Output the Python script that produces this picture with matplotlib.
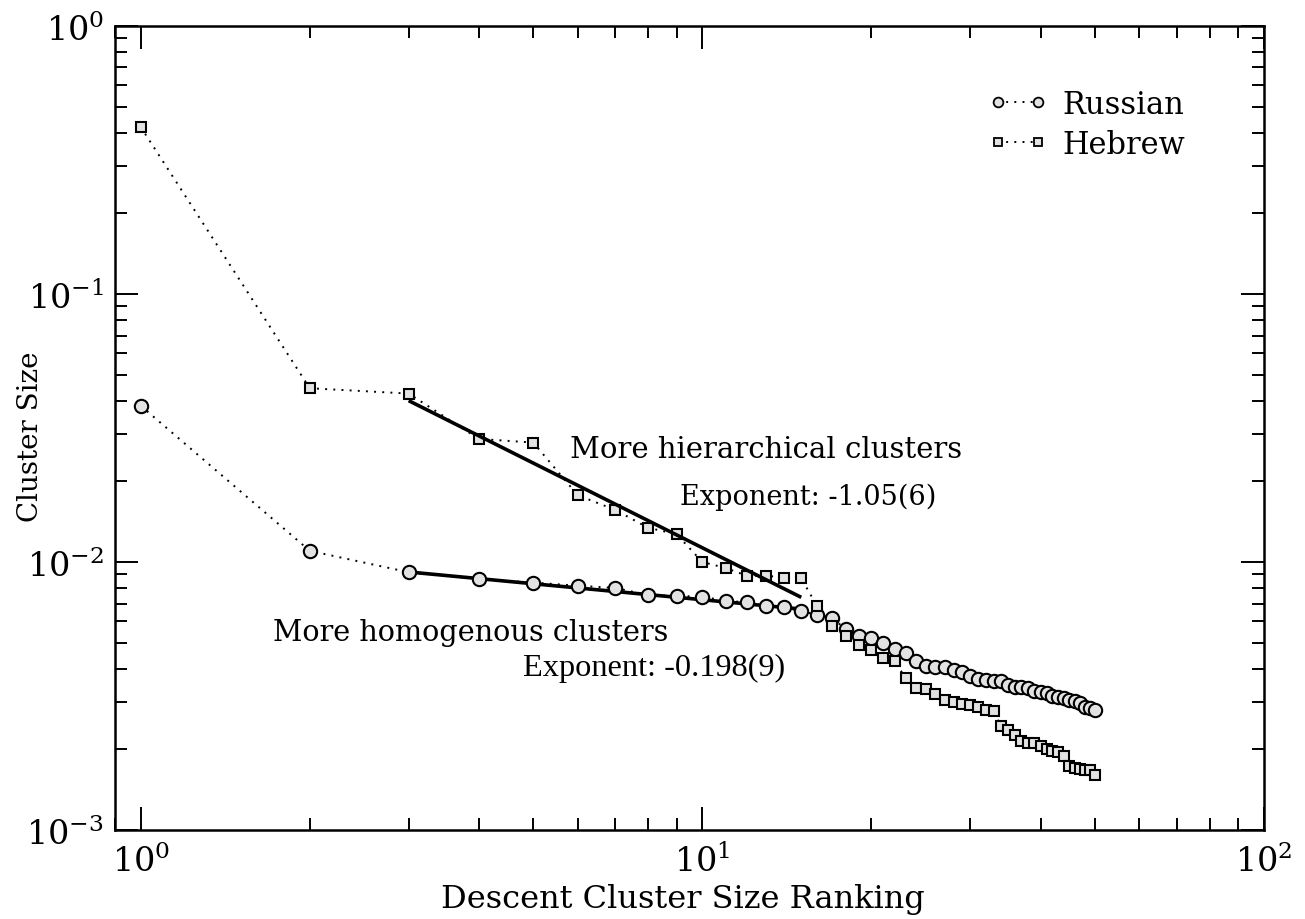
import numpy as np
import matplotlib
matplotlib.use("Agg")
import matplotlib.pyplot as plt
from matplotlib.ticker import LogLocator, FuncFormatter, NullFormatter
from matplotlib.lines import Line2D

plt.rcParams['font.family'] = ['DejaVu Serif']
plt.rcParams['mathtext.fontset'] = 'dejavuserif'

# Cluster sizes ranked in descending order (rank 1..50)
rank = np.arange(1, 51)

russian = [
    0.0383, 0.01101, 0.00916, 0.00865, 0.00838, 0.00816, 0.00800, 0.00753, 0.00748, 0.00742,
    0.00717, 0.00707, 0.00687, 0.00678, 0.00655, 0.00636, 0.00619, 0.00562, 0.00531, 0.00519,
    0.00498, 0.00472, 0.00456, 0.00428, 0.00410, 0.00407, 0.00405, 0.00396, 0.00388, 0.00376,
    0.00365, 0.00362, 0.00361, 0.00359, 0.00348, 0.00342, 0.00341, 0.00338, 0.00331, 0.00328,
    0.00324, 0.00317, 0.00314, 0.00310, 0.00306, 0.00304, 0.00297, 0.00289, 0.00286, 0.00280,
]

hebrew = [
    0.420, 0.0445, 0.0425, 0.0288, 0.0279, 0.01775, 0.01564, 0.01343, 0.01269, 0.0100,
    0.00950, 0.00889, 0.00889, 0.00874, 0.00869, 0.00686, 0.00575, 0.00528, 0.00490, 0.00470,
    0.00437, 0.00428, 0.00368, 0.00340, 0.00335, 0.00323, 0.00306, 0.00300, 0.00296, 0.00294,
    0.00287, 0.00280, 0.00277, 0.00244, 0.00236, 0.00226, 0.00214, 0.00211, 0.00211, 0.00206,
    0.00201, 0.00198, 0.00195, 0.00189, 0.00174, 0.00171, 0.00169, 0.00168, 0.00167, 0.00160,
]

# Power-law fits over ranks 3..15
fit_range = (3, 15)
hebrew_fit = (0.0400, -1.05)      # value at rank 3, exponent
russian_fit = (0.00918, -0.198)

fig = plt.figure(figsize=(13.05, 9.2), dpi=100)
ax = fig.add_axes([0.0881, 0.0967, 0.9686 - 0.0881, 0.9707 - 0.0967])
ax.set_xscale('log')
ax.set_yscale('log')
ax.set_xlim(0.9, 100)
ax.set_ylim(1e-3, 1)

face = '#e2e2e2'
dots = (0, (1, 3.2))

ax.plot(rank, russian, linestyle=dots, color='black', lw=1.4,
        marker='o', ms=9.6, mfc=face, mec='black', mew=1.5, zorder=3)
ax.plot(rank, hebrew, linestyle=dots, color='black', lw=1.4,
        marker='s', ms=7.9, mfc=face, mec='black', mew=1.5, zorder=3)

xf = np.array(fit_range, dtype=float)
ax.plot(xf, hebrew_fit[0] * (xf / xf[0]) ** hebrew_fit[1], color='black', lw=2.6, zorder=4,
        solid_capstyle='butt')
ax.plot(xf, russian_fit[0] * (xf / xf[0]) ** russian_fit[1], color='black', lw=2.6, zorder=2,
        solid_capstyle='butt')

# Axis styling: inward ticks on all four sides
for s in ax.spines.values():
    s.set_linewidth(1.8)
ax.tick_params(which='both', direction='in', top=True, right=True, width=1.4)
ax.tick_params(which='major', length=16.5)
ax.tick_params(which='minor', length=8.5)
ax.tick_params(axis='x', which='major', pad=10)
ax.tick_params(axis='y', which='major', pad=8)
ax.xaxis.set_major_locator(LogLocator(base=10, numticks=10))
ax.xaxis.set_minor_locator(LogLocator(base=10, subs=np.arange(2, 10), numticks=10))
ax.yaxis.set_major_locator(LogLocator(base=10, numticks=10))
ax.yaxis.set_minor_locator(LogLocator(base=10, subs=np.arange(2, 10), numticks=10))
fmt = FuncFormatter(lambda v, p: r'$\mathregular{10^{%d}}$' % int(round(np.log10(v))))
ax.xaxis.set_major_formatter(fmt)
ax.yaxis.set_major_formatter(fmt)
ax.xaxis.set_minor_formatter(NullFormatter())
ax.yaxis.set_minor_formatter(NullFormatter())
for lab in ax.get_xticklabels() + ax.get_yticklabels():
    lab.set_fontsize(24)

fig.text(0.5234, 0.022, 'Descent Cluster Size Ranking', ha='center', va='center', fontsize=23)
fig.text(0.023, 0.525, 'Cluster Size', ha='center', va='center', rotation=90, fontsize=20)

ax.text(0.396, 0.474, 'More hierarchical clusters', transform=ax.transAxes,
        ha='left', va='center', fontsize=21)
ax.text(0.4917, 0.4154, 'Exponent: -1.05(6)', transform=ax.transAxes,
        ha='left', va='center', fontsize=19.5)
ax.text(0.1375, 0.2463, 'More homogenous clusters', transform=ax.transAxes,
        ha='left', va='center', fontsize=20.7)
ax.text(0.3551, 0.2027, 'Exponent: -0.198(9)', transform=ax.transAxes,
        ha='left', va='center', fontsize=23.3, family=['Liberation Serif'])

handles = [
    Line2D([], [], linestyle=dots, color='black', lw=1.4, marker='o', ms=7.0,
           mfc=face, mec='black', mew=1.3),
    Line2D([], [], linestyle=dots, color='black', lw=1.4, marker='s', ms=6.2,
           mfc=face, mec='black', mew=1.3),
]
ax.legend(handles, ['Russian', 'Hebrew'], loc='upper left', bbox_to_anchor=(0.750, 0.937),
          frameon=False, fontsize=22, numpoints=2, handlelength=1.9, handletextpad=0.5,
          labelspacing=0.3, borderaxespad=0)

fig.savefig('out.png', dpi=100)
